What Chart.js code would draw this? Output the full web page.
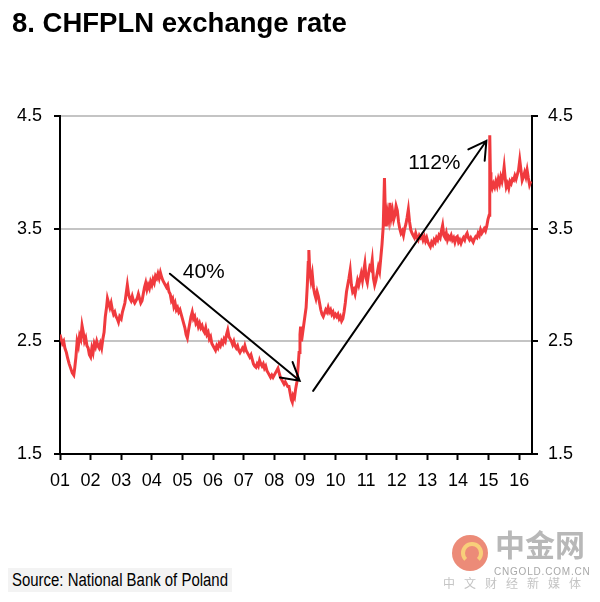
<!DOCTYPE html>
<html>
<head>
<meta charset="utf-8">
<script src="https://cdn.jsdelivr.net/npm/chart.js@4.4.1/dist/chart.umd.min.js"></script>
<style>
  body { margin: 0; background: #fff; width: 600px; height: 602px; overflow: hidden; position: relative; font-family: "Liberation Sans", Arial, sans-serif; }
  #wrap { position: absolute; left: 0; top: 0; width: 600px; height: 602px; }
  #title { position: absolute; left: 12px; top: 9px; font-size: 27.5px; line-height: 28px; font-weight: bold; color: #000; white-space: nowrap; }
  #srcbox { position: absolute; left: 8px; top: 568px; width: 224px; height: 24px; background: #f3f3f3; }
  #source { position: absolute; left: 12px; top: 568px; font-size: 18px; line-height: 24px; color: #000; white-space: nowrap; transform: scaleX(0.83); transform-origin: 0 0; }
  #logo { position: absolute; left: 452px; top: 535px; width: 36px; height: 36px; border-radius: 50%; background: #ec8b78; }
  #logo span { position: absolute; left: 9px; top: 7px; width: 14px; height: 14px; border: 4px solid #f8cf7a; border-radius: 50%; border-bottom-color: transparent; }
  #cn1 { position: absolute; left: 495px; top: 526px; font-family: "Noto Sans CJK SC", sans-serif; font-weight: bold; font-size: 30px; line-height: 34px; color: #b8b8b8; }
  #cn2 { position: absolute; left: 494px; top: 566px; font-size: 10px; line-height: 12px; letter-spacing: 0.8px; color: #a8a8a8; }
  #cn3 { position: absolute; left: 443px; top: 576px; font-family: "Noto Sans CJK SC", sans-serif; font-size: 12px; line-height: 14px; letter-spacing: 9px; color: #c4c4c4; }
</style>
</head>
<body>
<div id="wrap"><canvas id="fxChart"></canvas></div>
<div id="title">8. CHFPLN exchange rate</div>
<div id="srcbox"></div>
<div id="source">Source: National Bank of Poland</div>
<div id="logo"><span></span></div>
<div id="cn1">中金网</div>
<div id="cn2">CNGOLD.COM.CN</div>
<div id="cn3">中文财经新媒体</div>
<script>
// CHFPLN, decimal years
const dates = [
  2001.00,2001.04,2001.08,2001.12,2001.16,2001.21,2001.25,2001.30,2001.35,2001.40,2001.45,2001.48,2001.52,2001.56,2001.60,2001.64,2001.68,2001.72,2001.76,2001.80,2001.84,2001.88,2001.92,2001.96,
  2002.00,2002.04,2002.08,2002.12,2002.16,2002.20,2002.24,2002.28,2002.32,2002.36,2002.40,2002.44,2002.48,2002.52,2002.55,2002.59,2002.63,2002.67,2002.71,2002.75,2002.79,2002.83,2002.87,2002.91,2002.95,
  2003.00,2003.04,2003.08,2003.12,2003.16,2003.20,2003.24,2003.28,2003.32,2003.36,2003.40,2003.44,2003.48,2003.52,2003.56,2003.60,2003.64,2003.68,2003.72,2003.76,2003.80,2003.84,2003.88,2003.92,2003.96,
  2004.00,2004.04,2004.08,2004.12,2004.16,2004.20,2004.24,2004.28,2004.32,2004.36,2004.40,2004.44,2004.48,2004.52,2004.56,2004.60,2004.64,2004.68,2004.72,2004.76,2004.80,2004.84,2004.88,2004.92,2004.96,
  2005.00,2005.04,2005.08,2005.12,2005.16,2005.20,2005.24,2005.28,2005.32,2005.36,2005.40,2005.44,2005.48,2005.52,2005.56,2005.60,2005.64,2005.68,2005.72,2005.76,2005.80,2005.84,2005.88,2005.92,2005.96,
  2006.00,2006.04,2006.08,2006.12,2006.16,2006.20,2006.24,2006.28,2006.32,2006.36,2006.40,2006.44,2006.48,2006.52,2006.56,2006.60,2006.64,2006.68,2006.72,2006.76,2006.80,2006.84,2006.88,2006.92,2006.96,
  2007.00,2007.04,2007.08,2007.12,2007.16,2007.20,2007.24,2007.28,2007.32,2007.36,2007.40,2007.44,2007.48,2007.52,2007.56,2007.60,2007.64,2007.68,2007.72,2007.76,2007.80,2007.84,2007.88,2007.92,2007.96,
  2008.00,2008.04,2008.08,2008.12,2008.16,2008.20,2008.24,2008.28,2008.32,2008.36,2008.40,2008.44,2008.48,2008.52,2008.56,2008.59,2008.62,2008.66,2008.70,2008.74,2008.78,2008.81,2008.84,2008.86,2008.89,2008.92,2008.96,
  2009.00,2009.04,2009.08,2009.11,2009.13,2009.16,2009.20,2009.24,2009.28,2009.32,2009.36,2009.40,2009.44,2009.48,2009.52,2009.56,2009.60,2009.64,2009.68,2009.72,2009.76,2009.80,2009.84,2009.88,2009.92,2009.96,
  2010.00,2010.04,2010.08,2010.12,2010.16,2010.20,2010.24,2010.28,2010.32,2010.36,2010.40,2010.44,2010.48,2010.52,2010.56,2010.60,2010.64,2010.68,2010.72,2010.76,2010.80,2010.84,2010.88,2010.92,2010.96,
  2011.00,2011.04,2011.08,2011.12,2011.16,2011.20,2011.24,2011.28,2011.32,2011.36,2011.40,2011.44,2011.48,2011.52,2011.56,2011.60,2011.63,2011.66,2011.70,2011.74,2011.78,2011.82,2011.86,2011.90,2011.94,2011.98,
  2012.02,2012.06,2012.10,2012.14,2012.18,2012.22,2012.26,2012.30,2012.34,2012.38,2012.42,2012.46,2012.50,2012.54,2012.58,2012.62,2012.66,2012.70,2012.74,2012.78,2012.82,2012.86,2012.90,2012.94,2012.98,
  2013.02,2013.06,2013.10,2013.14,2013.18,2013.22,2013.26,2013.30,2013.34,2013.38,2013.42,2013.46,2013.50,2013.54,2013.58,2013.62,2013.66,2013.70,2013.74,2013.78,2013.82,2013.86,2013.90,2013.94,2013.98,
  2014.02,2014.06,2014.10,2014.14,2014.18,2014.22,2014.26,2014.30,2014.34,2014.38,2014.42,2014.46,2014.50,2014.54,2014.58,2014.62,2014.66,2014.70,2014.74,2014.78,2014.82,2014.86,2014.90,2014.94,2014.98,
  2015.02,2015.04,2015.06,2015.08,2015.12,2015.16,2015.20,2015.24,2015.28,2015.32,2015.36,2015.40,2015.44,2015.48,2015.51,2015.54,2015.58,2015.62,2015.66,2015.70,2015.74,2015.78,2015.82,2015.86,2015.90,2015.94,2015.98,
  2016.02,2016.06,2016.10,2016.14,2016.18,2016.22,2016.26,2016.30,2016.34,2016.38
];
const rates = [
  2.56,2.52,2.48,2.50,2.44,2.40,2.35,2.30,2.26,2.22,2.20,2.26,2.36,2.50,2.46,2.55,2.52,2.64,2.58,2.50,2.53,2.46,2.44,2.38,
  2.36,2.44,2.40,2.48,2.45,2.50,2.46,2.44,2.48,2.44,2.52,2.58,2.72,2.80,2.88,2.84,2.80,2.84,2.78,2.74,2.76,2.72,2.70,2.67,2.72,
  2.70,2.76,2.80,2.84,2.92,3.00,2.92,2.88,2.86,2.90,2.86,2.84,2.86,2.88,2.92,2.88,2.84,2.86,2.92,2.98,3.02,2.96,3.00,2.97,3.03,
  3.00,3.05,3.02,3.08,3.06,3.10,3.06,3.11,3.07,3.04,3.02,3.00,2.98,3.00,2.94,2.92,2.86,2.88,2.81,2.84,2.78,2.80,2.76,2.78,2.74,
  2.70,2.66,2.62,2.56,2.53,2.60,2.66,2.72,2.76,2.70,2.72,2.66,2.68,2.63,2.66,2.62,2.64,2.60,2.58,2.62,2.56,2.58,2.52,2.54,2.48,
  2.46,2.44,2.42,2.46,2.44,2.48,2.46,2.50,2.48,2.52,2.50,2.56,2.60,2.54,2.52,2.50,2.47,2.50,2.46,2.44,2.46,2.42,2.40,2.42,2.44,
  2.42,2.46,2.42,2.40,2.38,2.36,2.38,2.34,2.30,2.28,2.27,2.30,2.28,2.33,2.30,2.28,2.30,2.26,2.28,2.24,2.22,2.20,2.18,2.20,2.18,
  2.20,2.22,2.24,2.26,2.22,2.18,2.16,2.14,2.12,2.14,2.12,2.10,2.10,2.04,1.98,1.96,2.02,2.00,2.08,2.14,2.28,2.40,2.56,2.63,2.50,2.56,2.64,
  2.72,2.80,3.00,3.20,3.31,3.12,3.04,3.10,2.98,2.92,2.88,2.94,2.90,2.84,2.78,2.74,2.72,2.75,2.78,2.76,2.80,2.76,2.78,2.74,2.76,2.72,
  2.74,2.72,2.74,2.70,2.72,2.68,2.70,2.76,2.84,2.94,3.00,3.06,3.13,3.00,2.94,2.96,2.92,2.98,3.04,3.00,3.05,3.10,3.04,3.12,3.19,
  3.06,3.02,3.10,3.16,3.14,3.22,3.06,3.00,3.04,3.10,3.16,3.12,3.24,3.36,3.52,3.95,3.62,3.52,3.64,3.58,3.73,3.60,3.66,3.58,3.62,3.70,
  3.66,3.56,3.50,3.46,3.48,3.44,3.50,3.54,3.60,3.67,3.56,3.49,3.46,3.44,3.42,3.46,3.42,3.40,3.44,3.42,3.44,3.40,3.43,3.39,3.42,
  3.38,3.36,3.34,3.38,3.36,3.40,3.38,3.42,3.40,3.44,3.42,3.48,3.53,3.44,3.42,3.46,3.40,3.43,3.41,3.44,3.40,3.42,3.38,3.42,3.43,
  3.38,3.40,3.37,3.40,3.42,3.40,3.44,3.46,3.42,3.40,3.42,3.40,3.38,3.41,3.43,3.42,3.46,3.44,3.49,3.46,3.48,3.50,3.48,3.52,3.58,
  3.62,4.33,4.00,3.90,3.86,3.90,3.87,3.92,3.88,3.94,3.90,3.96,3.92,3.98,4.05,3.96,3.87,3.90,3.86,3.92,3.90,3.94,3.93,3.97,3.94,3.98,4.02,
  4.11,4.02,3.93,3.96,4.00,3.96,4.02,3.95,3.89,3.92
];

const tickYears = [2001,2002,2003,2004,2005,2006,2007,2008,2009,2010,2011,2012,2013,2014,2015,2016];
const tickLabels = ['01','02','03','04','05','06','07','08','09','10','11','12','13','14','15','16'];
const yTicks = [1.5, 2.5, 3.5, 4.5];

// arrows and their percentage labels, in data units (year, rate)
const arrowFrom = [[2004.59, 3.10], [2009.27, 2.06]];
const arrowTo = [[2008.83, 2.15], [2014.93, 4.28]];
const changeLabels = ['40%', '112%'];
const labelAt = [[2005.01, 3.11], [2012.38, 4.08]];

const labelFont = '"Liberation Sans", Arial, sans-serif';

const arrowPlugin = {
  id: 'arrows',
  afterDatasetsDraw(chart) {
    const ctx = chart.ctx;
    const xs = chart.scales.x, ys = chart.scales.y;
    ctx.save();
    ctx.strokeStyle = '#000';
    ctx.lineWidth = 2;
    ctx.lineCap = 'round';
    for (let i = 0; i < arrowFrom.length; i++) {
      const x1 = xs.getPixelForValue(arrowFrom[i][0]), y1 = ys.getPixelForValue(arrowFrom[i][1]);
      const x2 = xs.getPixelForValue(arrowTo[i][0]), y2 = ys.getPixelForValue(arrowTo[i][1]);
      const ang = Math.atan2(y2 - y1, x2 - x1);
      ctx.beginPath();
      ctx.moveTo(x1, y1);
      ctx.lineTo(x2, y2);
      ctx.moveTo(x2 - 20 * Math.cos(ang - 0.52), y2 - 20 * Math.sin(ang - 0.52));
      ctx.lineTo(x2, y2);
      ctx.lineTo(x2 - 20 * Math.cos(ang + 0.52), y2 - 20 * Math.sin(ang + 0.52));
      ctx.stroke();
    }
    ctx.fillStyle = '#000';
    ctx.font = '21px ' + labelFont;
    ctx.textBaseline = 'middle';
    ctx.textAlign = 'left';
    changeLabels.forEach((t, i) => {
      ctx.fillText(t, xs.getPixelForValue(labelAt[i][0]), ys.getPixelForValue(labelAt[i][1]));
    });
    ctx.restore();
  }
};

const yAxis = (pos) => ({
  type: 'linear',
  position: pos,
  min: 1.5,
  max: 4.5,
  afterBuildTicks: s => { s.ticks = yTicks.map(v => ({ value: v })); },
  afterFit: s => { s.width = pos === 'left' ? 60 : 68; },
  border: { color: '#000', width: 2 },
  grid: {
    drawOnChartArea: pos === 'left',
    color: ctx => (ctx.tick && ctx.tick.value === 1.5) ? 'rgba(0,0,0,0)' : '#c4c4c4',
    lineWidth: 2,
    tickColor: '#000',
    tickWidth: 2,
    tickLength: 6
  },
  ticks: {
    color: '#000',
    padding: pos === 'left' ? 12 : 10,
    font: { family: labelFont, size: 18 },
    callback: v => v.toFixed(1)
  }
});

new Chart(document.getElementById('fxChart'), {
  type: 'line',
  data: {
    datasets: [{
      data: dates.map((d, i) => ({ x: d, y: rates[i] })),
      borderColor: '#f03a3e',
      borderWidth: 3,
      pointRadius: 0,
      tension: 0,
      yAxisID: 'y'
    }]
  },
  options: {
    responsive: true,
    maintainAspectRatio: false,
    animation: false,
    layout: { padding: { top: 116, left: 0, right: 0, bottom: 0 } },
    plugins: { legend: { display: false }, tooltip: { enabled: false } },
    scales: {
      x: {
        type: 'linear',
        min: 2001,
        max: 2016.42,
        afterBuildTicks: s => { s.ticks = tickYears.map(v => ({ value: v })); },
        afterFit: s => { s.height = 148; },
        border: { color: '#000', width: 2 },
        grid: { drawOnChartArea: false, tickColor: '#000', tickWidth: 2, tickLength: 6 },
        ticks: {
          color: '#000',
          padding: 10,
          maxRotation: 0,
          autoSkip: false,
          font: { family: labelFont, size: 18 },
          callback: (v, i) => tickLabels[i]
        }
      },
      y: yAxis('left'),
      y2: yAxis('right')
    }
  },
  plugins: [arrowPlugin]
});
</script>
</body>
</html>
